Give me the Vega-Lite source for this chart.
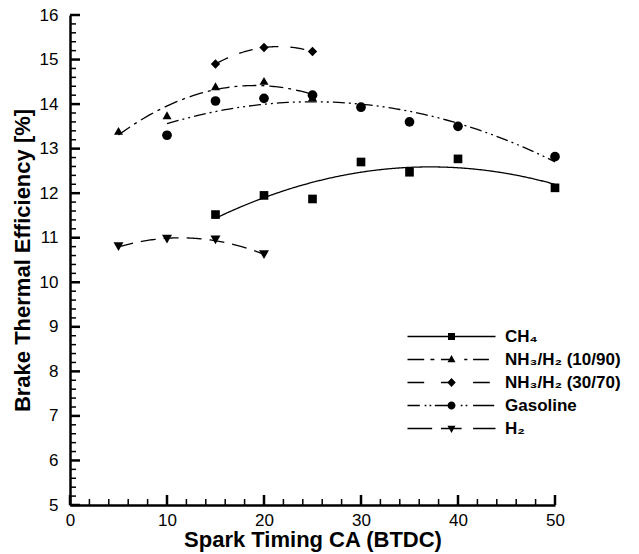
{
  "$schema": "https://vega.github.io/schema/vega-lite/v6.json",
  "autosize": "none",
  "width": 485,
  "height": 490,
  "padding": {"left": 70, "top": 15, "right": 84, "bottom": 49},
  "background": "white",
  "config": {
    "view": {"stroke": null},
    "font": "Liberation Sans",
    "axis": {
      "domainColor": "black",
      "domainWidth": 2.5,
      "grid": false,
      "labelFont": "Liberation Sans",
      "labelFontSize": 17,
      "labelColor": "black",
      "titleFont": "Liberation Sans",
      "titleFontSize": 22,
      "titleFontWeight": "bold",
      "titleColor": "black"
    }
  },
  "datasets": {
    "xticks": [{"v": 0}, {"v": 2}, {"v": 4}, {"v": 6}, {"v": 8}, {"v": 10}, {"v": 12}, {"v": 14}, {"v": 16}, {"v": 18}, {"v": 20}, {"v": 22}, {"v": 24}, {"v": 26}, {"v": 28}, {"v": 30}, {"v": 32}, {"v": 34}, {"v": 36}, {"v": 38}, {"v": 40}, {"v": 42}, {"v": 44}, {"v": 46}, {"v": 48}, {"v": 50}],
    "yticks": [{"v": 5}, {"v": 5.2}, {"v": 5.4}, {"v": 5.6}, {"v": 5.8}, {"v": 6}, {"v": 6.2}, {"v": 6.4}, {"v": 6.6}, {"v": 6.8}, {"v": 7}, {"v": 7.2}, {"v": 7.4}, {"v": 7.6}, {"v": 7.8}, {"v": 8}, {"v": 8.2}, {"v": 8.4}, {"v": 8.6}, {"v": 8.8}, {"v": 9}, {"v": 9.2}, {"v": 9.4}, {"v": 9.6}, {"v": 9.8}, {"v": 10}, {"v": 10.2}, {"v": 10.4}, {"v": 10.6}, {"v": 10.8}, {"v": 11}, {"v": 11.2}, {"v": 11.4}, {"v": 11.6}, {"v": 11.8}, {"v": 12}, {"v": 12.2}, {"v": 12.4}, {"v": 12.6}, {"v": 12.8}, {"v": 13}, {"v": 13.2}, {"v": 13.4}, {"v": 13.6}, {"v": 13.8}, {"v": 14}, {"v": 14.2}, {"v": 14.4}, {"v": 14.6}, {"v": 14.8}, {"v": 15}, {"v": 15.2}, {"v": 15.4}, {"v": 15.6}, {"v": 15.8}, {"v": 16}],
    "bte": [
      {"series": "CH₄", "x": 15, "y": 11.52},
      {"series": "CH₄", "x": 20, "y": 11.95},
      {"series": "CH₄", "x": 25, "y": 11.87},
      {"series": "CH₄", "x": 30, "y": 12.7},
      {"series": "CH₄", "x": 35, "y": 12.47},
      {"series": "CH₄", "x": 40, "y": 12.77},
      {"series": "CH₄", "x": 50, "y": 12.12},
      {"series": "NH₃/H₂ (10/90)", "x": 5, "y": 13.4},
      {"series": "NH₃/H₂ (10/90)", "x": 10, "y": 13.75},
      {"series": "NH₃/H₂ (10/90)", "x": 15, "y": 14.4},
      {"series": "NH₃/H₂ (10/90)", "x": 20, "y": 14.52},
      {"series": "NH₃/H₂ (10/90)", "x": 25, "y": 14.15},
      {"series": "NH₃/H₂ (30/70)", "x": 15, "y": 14.9},
      {"series": "NH₃/H₂ (30/70)", "x": 20, "y": 15.27},
      {"series": "NH₃/H₂ (30/70)", "x": 25, "y": 15.18},
      {"series": "Gasoline", "x": 10, "y": 13.3},
      {"series": "Gasoline", "x": 15, "y": 14.07},
      {"series": "Gasoline", "x": 20, "y": 14.13},
      {"series": "Gasoline", "x": 25, "y": 14.2},
      {"series": "Gasoline", "x": 30, "y": 13.93},
      {"series": "Gasoline", "x": 35, "y": 13.6},
      {"series": "Gasoline", "x": 40, "y": 13.5},
      {"series": "Gasoline", "x": 50, "y": 12.82},
      {"series": "H₂", "x": 5, "y": 10.8},
      {"series": "H₂", "x": 10, "y": 10.97},
      {"series": "H₂", "x": 15, "y": 10.95},
      {"series": "H₂", "x": 20, "y": 10.62}
    ]
  },
  "layer": [
    {
      "data": {"name": "bte"},
      "transform": [
        {"regression": "y", "on": "x", "groupby": ["series"], "method": "poly", "order": 2}
      ],
      "mark": {"type": "line", "color": "black", "strokeWidth": 1.3},
      "encoding": {
        "x": {
          "field": "x", "type": "quantitative",
          "scale": {"domain": [0, 50], "nice": false, "zero": false},
          "axis": {
            "title": "Spark Timing CA (BTDC)",
            "orient": "bottom",
            "values": [0, 10, 20, 30, 40, 50],
            "ticks": false,
            "tickSize": 0,
            "labelPadding": 7,
            "titlePadding": 1,
            "labelFlush": false
          }
        },
        "y": {
          "field": "y", "type": "quantitative",
          "scale": {"domain": [5, 16], "nice": false, "zero": false},
          "axis": {
            "title": "Brake Thermal Efficiency [%]",
            "orient": "left",
            "values": [5, 6, 7, 8, 9, 10, 11, 12, 13, 14, 15, 16],
            "format": "d",
            "ticks": false,
            "tickSize": 0,
            "labelPadding": 12,
            "titlePadding": 5,
            "labelFlush": false
          }
        },
        "strokeDash": {
          "field": "series", "type": "nominal",
          "scale": {
            "domain": ["CH₄", "NH₃/H₂ (10/90)", "NH₃/H₂ (30/70)", "Gasoline", "H₂"],
            "range": [[1, 0], [14, 5, 3, 5], [14, 12], [12, 4, 2, 4, 2, 4], [15, 8]]
          },
          "legend": null
        }
      }
    },
    {
      "data": {"name": "xticks"},
      "transform": [{"filter": "datum.v % 10 === 0"}],
      "mark": {"type": "rule", "color": "black", "strokeWidth": 2.5},
      "encoding": {
        "x": {"field": "v", "type": "quantitative", "axis": null},
        "y": {"datum": 5, "type": "quantitative", "axis": null},
        "y2": {"datum": 5.2245}
      }
    },
    {
      "data": {"name": "xticks"},
      "transform": [{"filter": "datum.v % 10 !== 0"}],
      "mark": {"type": "rule", "color": "black", "strokeWidth": 1.5},
      "encoding": {
        "x": {"field": "v", "type": "quantitative", "axis": null},
        "y": {"datum": 5, "type": "quantitative", "axis": null},
        "y2": {"datum": 5.135}
      }
    },
    {
      "data": {"name": "yticks"},
      "transform": [{"filter": "datum.v % 1 === 0"}],
      "mark": {"type": "rule", "color": "black", "strokeWidth": 2.5},
      "encoding": {
        "y": {"field": "v", "type": "quantitative", "axis": null},
        "x": {"datum": 0, "type": "quantitative", "axis": null},
        "x2": {"datum": 1.031}
      }
    },
    {
      "data": {"name": "yticks"},
      "transform": [{"filter": "datum.v % 1 !== 0"}],
      "mark": {"type": "rule", "color": "black", "strokeWidth": 1.5},
      "encoding": {
        "y": {"field": "v", "type": "quantitative", "axis": null},
        "x": {"datum": 0, "type": "quantitative", "axis": null},
        "x2": {"datum": 0.619}
      }
    },
    {
      "data": {"name": "bte"},
      "mark": {"type": "point", "filled": true, "color": "black", "opacity": 1},
      "encoding": {
        "x": {"field": "x", "type": "quantitative", "axis": null},
        "y": {"field": "y", "type": "quantitative", "axis": null},
        "shape": {
          "field": "series", "type": "nominal",
          "scale": {
            "domain": ["CH₄", "NH₃/H₂ (10/90)", "NH₃/H₂ (30/70)", "Gasoline", "H₂"],
            "range": ["square", "triangle-up", "diamond", "circle", "triangle-down"]
          },
          "legend": null
        },
        "size": {
          "field": "series", "type": "nominal",
          "scale": {
            "domain": ["CH₄", "NH₃/H₂ (10/90)", "NH₃/H₂ (30/70)", "Gasoline", "H₂"],
            "range": [75, 100, 110, 115, 100]
          },
          "legend": null
        }
      }
    },
    {
      "data": {"name": "bte"},
      "transform": [{"filter": "false"}],
      "mark": {"type": "point", "filled": true, "fill": "black", "opacity": 1},
      "encoding": {
        "x": {"field": "x", "type": "quantitative", "axis": null},
        "y": {"field": "y", "type": "quantitative", "axis": null},
        "shape": {
          "field": "series", "type": "nominal",
          "scale": {
            "domain": ["CH₄", "NH₃/H₂ (10/90)", "NH₃/H₂ (30/70)", "Gasoline", "H₂"],
            "range": [
              "M-8.8,-0.13H8.8V0.13H-8.8ZM-0.7,-0.7H0.7V0.7H-0.7Z",
              "M-8.8,-0.13H-5.46V0.13H-8.8ZM-4.22,-0.13H-3.43V0.13H-4.22ZM-2.11,-0.13H0V0.13H-2.11ZM2.55,-0.13H3.17V0.13H2.55ZM4.31,-0.13H7.48V0.13H4.31ZM0,-0.9L0.8,0.55L-0.8,0.55Z",
              "M-8.8,-0.13H-5.46V0.13H-8.8ZM-2.11,-0.13H0V0.13H-2.11ZM4.31,-0.13H7.66V0.13H4.31ZM0,-0.9L0.85,0L0,0.9L-0.85,0Z",
              "M-8.8,-0.13H-6.34V0.13H-8.8ZM-5.37,-0.13H-5.02V0.13H-5.37ZM-4.4,-0.13H-4.05V0.13H-4.4ZM-3.34,-0.13H0V0.13H-3.34ZM1.85,-0.13H2.2V0.13H1.85ZM2.82,-0.13H3.17V0.13H2.82ZM4.31,-0.13H8.54V0.13H4.31ZM0.8,0A0.8,0.8 0 1,1 -0.8,0A0.8,0.8 0 1,1 0.8,0Z",
              "M-8.8,-0.13H-3.87V0.13H-8.8ZM-2.11,-0.13H2.02V0.13H-2.11ZM4.31,-0.13H8.8V0.13H4.31ZM-0.8,-0.55L0.8,-0.55L0,0.9Z"
            ]
          },
          "legend": {
            "title": null,
            "orient": "none",
            "legendX": 373,
            "legendY": 313,
            "padding": 0,
            "symbolSize": 100,
            "symbolFillColor": "black",
            "symbolStrokeWidth": 0,
            "symbolOpacity": 1,
            "labelFont": "Liberation Sans",
            "labelFontSize": 17,
            "labelFontWeight": "bold",
            "labelColor": "black",
            "labelOffset": 45,
            "labelLimit": 300,
            "rowPadding": 5,
            "encode": {
              "symbols": {
                "update": {
                  "fill": {"value": "black"},
                  "opacity": {"value": 1}
                }
              }
            }
          }
        }
      }
    }
  ],
  "resolve": {
    "scale": {"shape": "independent", "size": "independent"},
    "axis": {"x": "independent", "y": "independent"}
  }
}
